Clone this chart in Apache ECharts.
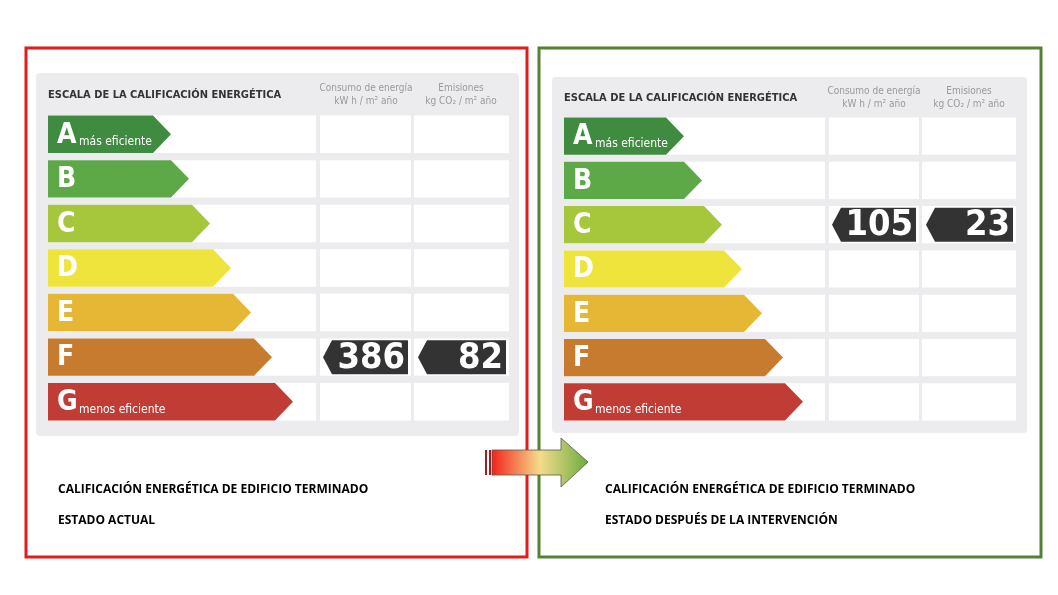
<!DOCTYPE html>
<html><head><meta charset="utf-8">
<script src="https://cdn.jsdelivr.net/npm/echarts@6/dist/echarts.min.js"></script>
<style>html,body{margin:0;background:#fff}#c{width:1058px;height:595px}</style>
</head><body><div id="c"></div>
<script>
const categories = ['A','B','C','D','E','F','G'];
const arrowLengthsLeft = [123,141,162,183,203,224,245];
const arrowLengthsRight = [120,138,158,178,198,219,239];
const colors = ['#3f8b3f','#5ea947','#a6c63b','#eee43b','#e6b735','#c77b2e','#c23c36'];
const subLabels = {A:'más eficiente', G:'menos eficiente'};
const ratingLeft = 'F', consumoLeft = 386, emisionesLeft = 82;
const ratingRight = 'C', consumoRight = 105, emisionesRight = 23;
const captionLeft = ['CALIFICACIÓN ENERGÉTICA DE EDIFICIO TERMINADO','ESTADO ACTUAL'];
const captionRight = ['CALIFICACIÓN ENERGÉTICA DE EDIFICIO TERMINADO','ESTADO DESPUÉS DE LA INTERVENCIÓN'];
const FONT = '"DejaVu Sans Condensed","DejaVu Sans",sans-serif';

function makeRender(cfg){
  return function(params, api){
    const idx = api.value(0);
    const val = api.value(1);
    const start = api.coord([0, idx]);
    const end = api.coord([val, idx]);
    const band = api.size([0,1])[1];
    const h = band*0.84;
    const y0 = start[1]-h/2, y1 = start[1]+h/2;
    const tip = 18;
    const cat = categories[idx];
    const children = [
      {type:'rect', shape:{x:start[0], y:y0, width:cfg.stripW, height:h}, style:{fill:'#fff'}},
      {type:'rect', shape:{x:start[0]+cfg.c1, y:y0, width:cfg.w1, height:h}, style:{fill:'#fff'}},
      {type:'rect', shape:{x:start[0]+cfg.c2, y:y0, width:cfg.w2, height:h}, style:{fill:'#fff'}},
      {type:'polygon', shape:{points:[[start[0],y0],[end[0]-tip,y0],[end[0],start[1]],[end[0]-tip,y1],[start[0],y1]]}, style:{fill:colors[idx]}},
      {type:'text', x:start[0]+9, y:start[1]+1, style:{text:cat, fill:'#fff', font:'bold 28px '+FONT, verticalAlign:'middle', textAlign:'left'}}
    ];
    if (subLabels[cat]) children.push({type:'text', x:start[0]+31, y:y1-11, style:{text:subLabels[cat], fill:'#fff', font:'12px '+FONT, verticalAlign:'middle'}});
    if (cat === cfg.rating){
      const bx = [start[0]+cfg.c1+3, start[0]+cfg.c2+4];
      const bw = [cfg.w1-6, cfg.w2-7];
      const vals = [cfg.v1, cfg.v2];
      const by0 = start[1]-17, by1 = start[1]+17;
      for (let i=0;i<2;i++){
        const x=bx[i], w=bw[i];
        children.push({type:'polygon', shape:{points:[[x+9,by0],[x+w,by0],[x+w,by1],[x+9,by1],[x,start[1]]]}, style:{fill:'#333'}});
        children.push({type:'text', x:x+w-3, y:start[1]+1, style:{text:String(vals[i]), fill:'#fff', font:'bold 36px '+FONT, textAlign:'right', verticalAlign:'middle'}});
      }
    }
    return {type:'group', children};
  };
}

const left = {stripW:268, c1:272, w1:91, c2:366, w2:95, rating:ratingLeft, v1:consumoLeft, v2:emisionesLeft};
const right = {stripW:261, c1:265, w1:90, c2:358, w2:94, rating:ratingRight, v1:consumoRight, v2:emisionesRight};

const chart = echarts.init(document.getElementById('c'));
function hdr(x, y, lines, fill){
  return {type:'text', x, y, z:1, style:{text:lines, fill, font:'10px '+FONT, textAlign:'center', lineHeight:13}};
}
chart.setOption({
  animation:false,
  grid:[{left:48, top:112, width:260, height:312},{left:564, top:114, width:260, height:310}],
  xAxis:[{type:'value', gridIndex:0, min:0, max:260, show:false},{type:'value', gridIndex:1, min:0, max:260, show:false}],
  yAxis:[{type:'category', gridIndex:0, data:categories, inverse:true, show:false},{type:'category', gridIndex:1, data:categories, inverse:true, show:false}],
  series:[
    {type:'custom', xAxisIndex:0, yAxisIndex:0, renderItem:makeRender(left), data:arrowLengthsLeft.map((v,i)=>[i,v])},
    {type:'custom', xAxisIndex:1, yAxisIndex:1, renderItem:makeRender(right), data:arrowLengthsRight.map((v,i)=>[i,v])}
  ],
  graphic:[
    {type:'rect', z:0, shape:{x:36,y:73,width:483,height:363,r:4}, style:{fill:'#ececef'}},
    {type:'rect', z:0, shape:{x:552,y:77,width:475,height:356,r:4}, style:{fill:'#ececef'}},
    {type:'rect', z:0, shape:{x:26,y:48,width:501,height:509}, style:{fill:'none', stroke:'#e31b1b', lineWidth:3}},
    {type:'rect', z:0, shape:{x:539,y:48,width:502,height:509}, style:{fill:'none', stroke:'#548235', lineWidth:3}},
    {type:'text', z:1, x:48, y:90, style:{text:'ESCALA DE LA CALIFICACIÓN ENERGÉTICA', fill:'#333', font:'bold 11px '+FONT}},
    {type:'text', z:1, x:564, y:93, style:{text:'ESCALA DE LA CALIFICACIÓN ENERGÉTICA', fill:'#333', font:'bold 11px '+FONT}},
    hdr(366,82,'Consumo de energía\nkW h / m² año','#999'),
    hdr(461,82,'Emisiones\nkg CO₂ / m² año','#999'),
    hdr(874,85,'Consumo de energía\nkW h / m² año','#999'),
    hdr(969,85,'Emisiones\nkg CO₂ / m² año','#999'),
    {type:'text', z:1, x:58, y:484, style:{text:captionLeft[0], fill:'#000', font:'bold 12px "Open Sans",sans-serif'}},
    {type:'text', z:1, x:58, y:515, style:{text:captionLeft[1], fill:'#000', font:'bold 12px "Open Sans",sans-serif'}},
    {type:'text', z:1, x:605, y:484, style:{text:captionRight[0], fill:'#000', font:'bold 12px "Open Sans",sans-serif'}},
    {type:'text', z:1, x:605, y:515, style:{text:captionRight[1], fill:'#000', font:'bold 12px "Open Sans",sans-serif'}},
    {type:'rect', z:5, shape:{x:485,y:450,width:2,height:25}, style:{fill:'#9b2020'}},
    {type:'rect', z:5, shape:{x:489,y:450,width:2,height:25}, style:{fill:'#9b2020'}},
    {type:'polygon', z:5, shape:{points:[[492,450],[561,450],[561,438],[588,462],[561,487],[561,475],[492,475]]},
      style:{stroke:'#555', lineWidth:0.8, fill:new echarts.graphic.LinearGradient(0,0,1,0,[{offset:0,color:'#f2231c'},{offset:0.5,color:'#f5dc8c'},{offset:1,color:'#6aac3c'}])}}
  ]
});
</script></body></html>
